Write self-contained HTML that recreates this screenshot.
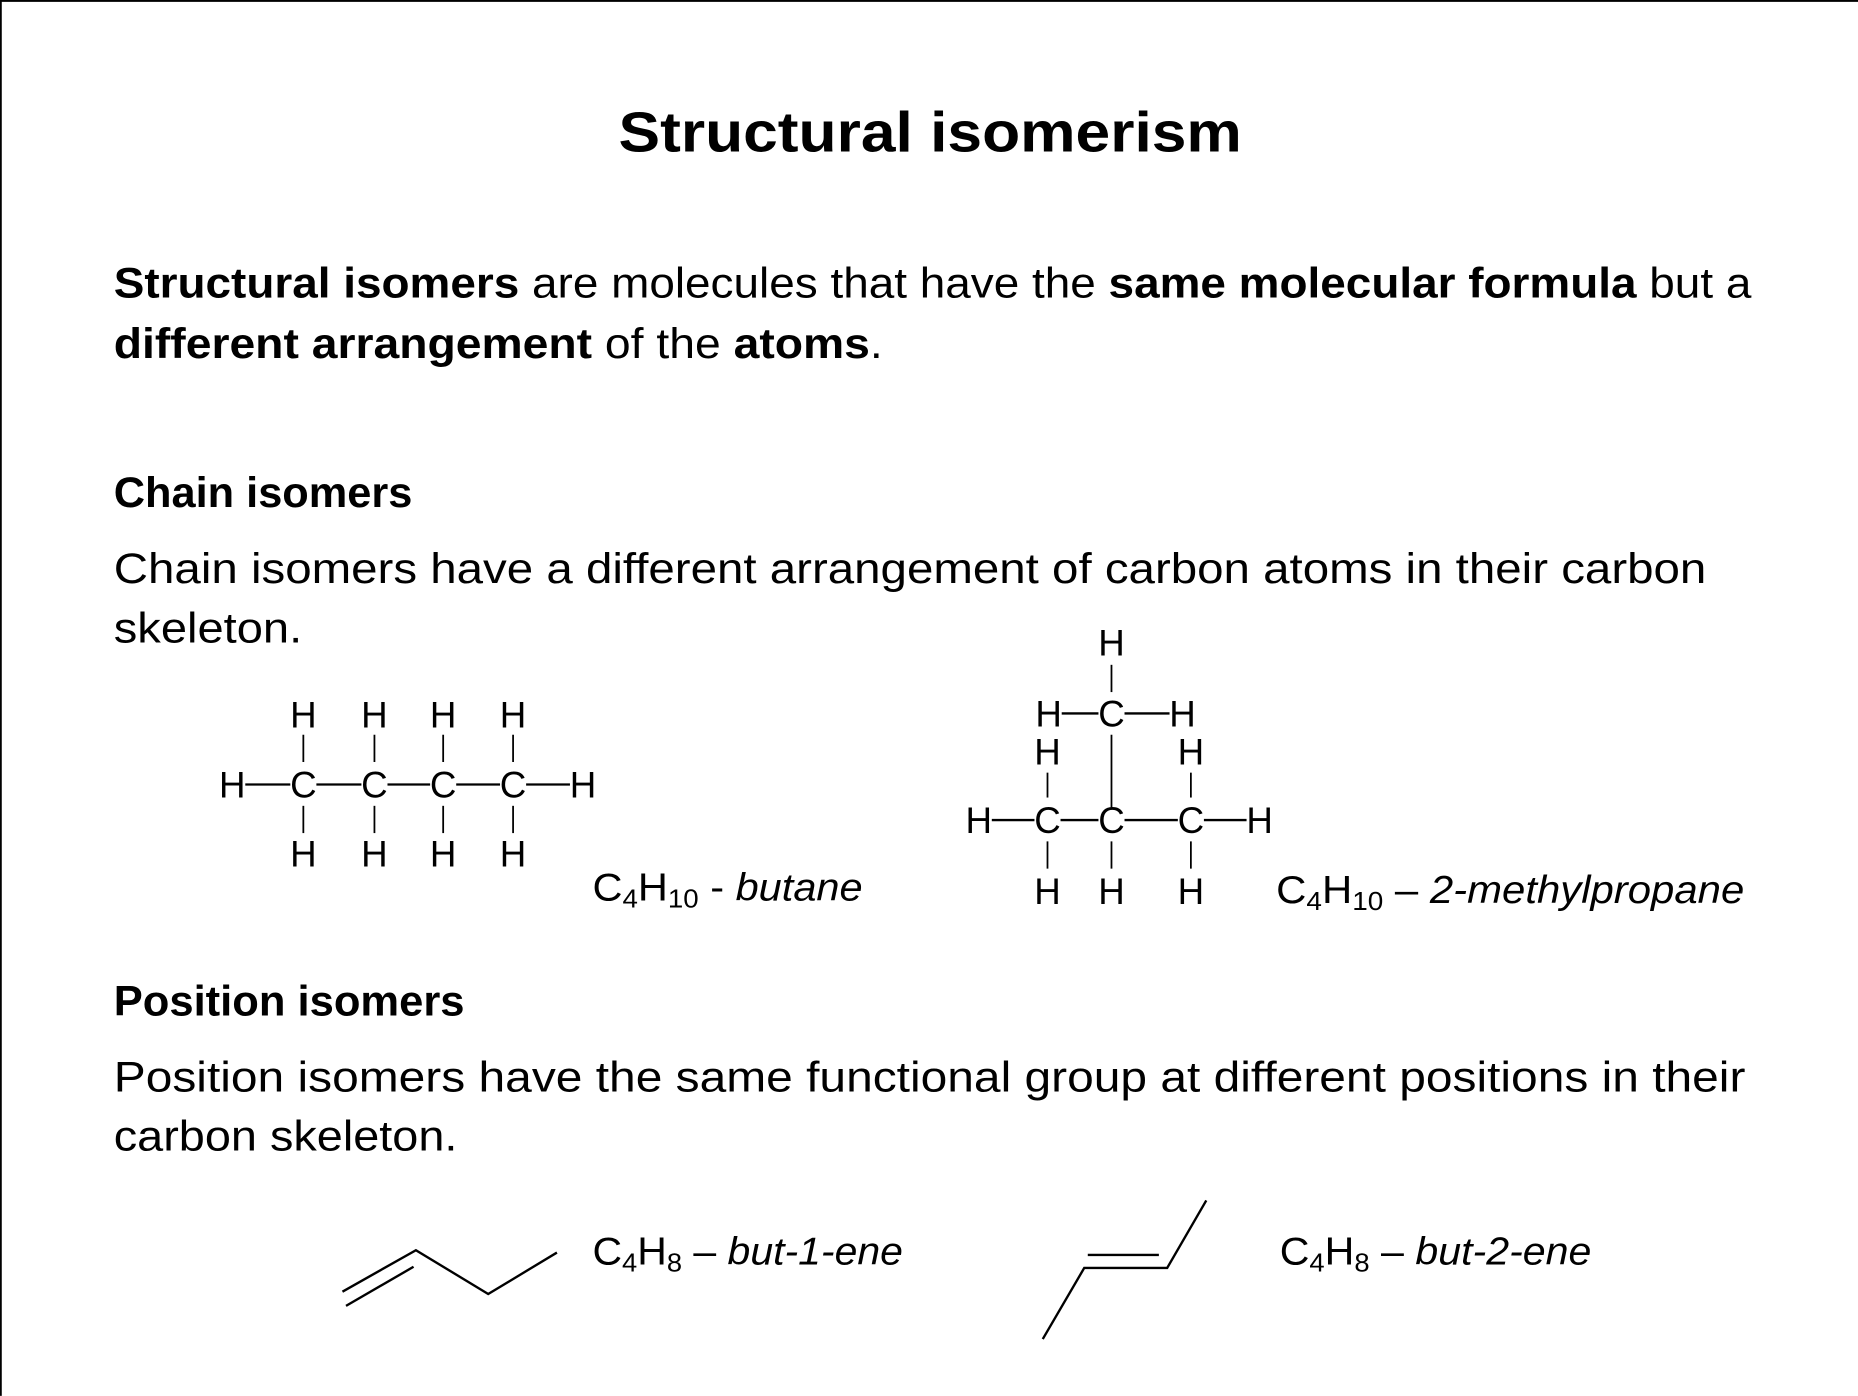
<!DOCTYPE html>
<html><head><meta charset="utf-8"><style>
html,body{margin:0;padding:0;background:#fff;}
svg{display:block;}
text{font-family:"Liberation Sans",sans-serif;fill:#000;}
.b{font-weight:bold;}
.s{font-family:"Liberation Sans",sans-serif;font-size:31px;text-anchor:middle;}
line,polyline{stroke:#000;stroke-width:2;fill:none;}
.thin{stroke-width:1.5;}
</style></head><body>
<svg width="1858" height="1396" viewBox="0 0 1568 1178" xmlns="http://www.w3.org/2000/svg">
<rect x="0" y="0" width="1568" height="1178" fill="#fff"/>
<line x1="0.5" y1="0" x2="0.5" y2="1178" stroke="#e2e2e2" stroke-width="1"/>
<line x1="0" y1="0.5" x2="1568" y2="0.5" stroke="#e2e2e2" stroke-width="1"/>

<text x="522" y="128" font-size="48" class="b" textLength="526" lengthAdjust="spacingAndGlyphs">Structural isomerism</text>

<text x="96" y="251" font-size="36" textLength="1382" lengthAdjust="spacingAndGlyphs"><tspan class="b">Structural isomers</tspan> are molecules that have the <tspan class="b">same molecular formula</tspan> but a</text>
<text x="96" y="302" font-size="36" textLength="649" lengthAdjust="spacingAndGlyphs"><tspan class="b">different arrangement</tspan> of the <tspan class="b">atoms</tspan>.</text>

<text x="96" y="428" font-size="36" class="b" textLength="252" lengthAdjust="spacingAndGlyphs">Chain isomers</text>
<text x="96" y="492" font-size="36" textLength="1344" lengthAdjust="spacingAndGlyphs">Chain isomers have a different arrangement of carbon atoms in their carbon</text>
<text x="96" y="542" font-size="36" textLength="159" lengthAdjust="spacingAndGlyphs">skeleton.</text>

<!-- butane -->
<g>
<text class="s" x="256" y="614">H</text><text class="s" x="316" y="614">H</text><text class="s" x="374" y="614">H</text><text class="s" x="433" y="614">H</text>
<text class="s" x="196" y="673">H</text><text class="s" x="256" y="673">C</text><text class="s" x="316" y="673">C</text><text class="s" x="374" y="673">C</text><text class="s" x="433" y="673">C</text><text class="s" x="492" y="673">H</text>
<text class="s" x="256" y="731">H</text><text class="s" x="316" y="731">H</text><text class="s" x="374" y="731">H</text><text class="s" x="433" y="731">H</text>
<line class="thin" x1="256" y1="620" x2="256" y2="643"/><line class="thin" x1="316" y1="620" x2="316" y2="643"/><line class="thin" x1="374" y1="620" x2="374" y2="643"/><line class="thin" x1="433" y1="620" x2="433" y2="643"/>
<line class="thin" x1="256" y1="680" x2="256" y2="703"/><line class="thin" x1="316" y1="680" x2="316" y2="703"/><line class="thin" x1="374" y1="680" x2="374" y2="703"/><line class="thin" x1="433" y1="680" x2="433" y2="703"/>
<line x1="207" y1="662" x2="245" y2="662"/><line x1="267" y1="662" x2="305" y2="662"/><line x1="327" y1="662" x2="363" y2="662"/><line x1="385" y1="662" x2="422" y2="662"/><line x1="444" y1="662" x2="481" y2="662"/>
</g>
<text x="500" y="760" font-size="33" textLength="228" lengthAdjust="spacingAndGlyphs">C<tspan font-size="22" dy="6">4</tspan><tspan dy="-6">H</tspan><tspan font-size="22" dy="6">10</tspan><tspan dy="-6"> - </tspan><tspan font-style="italic">butane</tspan></text>

<!-- 2-methylpropane -->
<g>
<text class="s" x="938" y="553">H</text>
<line class="thin" x1="938" y1="561" x2="938" y2="584"/>
<text class="s" x="885" y="613">H</text><text class="s" x="938" y="613">C</text><text class="s" x="998" y="613">H</text>
<line x1="896" y1="602" x2="927" y2="602"/><line x1="949" y1="602" x2="987" y2="602"/>
<line class="thin" x1="938" y1="620" x2="938" y2="682"/>
<text class="s" x="884" y="645">H</text><text class="s" x="1005" y="645">H</text>
<line class="thin" x1="884" y1="652" x2="884" y2="673"/><line class="thin" x1="1005" y1="652" x2="1005" y2="673"/>
<text class="s" x="826" y="703">H</text><text class="s" x="884" y="703">C</text><text class="s" x="938" y="703">C</text><text class="s" x="1005" y="703">C</text><text class="s" x="1063" y="703">H</text>
<line x1="837" y1="692" x2="873" y2="692"/><line x1="895" y1="692" x2="927" y2="692"/><line x1="949" y1="692" x2="994" y2="692"/><line x1="1016" y1="692" x2="1052" y2="692"/>
<line class="thin" x1="884" y1="710" x2="884" y2="733"/><line class="thin" x1="938" y1="710" x2="938" y2="733"/><line class="thin" x1="1005" y1="710" x2="1005" y2="733"/>
<text class="s" x="884" y="763">H</text><text class="s" x="938" y="763">H</text><text class="s" x="1005" y="763">H</text>
</g>
<text x="1077" y="762" font-size="33" textLength="395" lengthAdjust="spacingAndGlyphs">C<tspan font-size="22" dy="6">4</tspan><tspan dy="-6">H</tspan><tspan font-size="22" dy="6">10</tspan><tspan dy="-6"> – </tspan><tspan font-style="italic">2-methylpropane</tspan></text>

<text x="96" y="857" font-size="36" class="b" textLength="296" lengthAdjust="spacingAndGlyphs">Position isomers</text>
<text x="96" y="921" font-size="36" textLength="1377" lengthAdjust="spacingAndGlyphs">Position isomers have the same functional group at different positions in their</text>
<text x="96" y="971" font-size="36" textLength="290" lengthAdjust="spacingAndGlyphs">carbon skeleton.</text>

<!-- but-1-ene -->
<polyline points="289,1090 351,1055 412,1092 470,1057"/>
<line x1="292" y1="1102" x2="349" y2="1069"/>
<text x="500" y="1067" font-size="33" textLength="262" lengthAdjust="spacingAndGlyphs">C<tspan font-size="22" dy="6">4</tspan><tspan dy="-6">H</tspan><tspan font-size="22" dy="6">8</tspan><tspan dy="-6"> – </tspan><tspan font-style="italic">but-1-ene</tspan></text>

<!-- but-2-ene -->
<polyline points="880,1130 915,1070 985,1070 1018,1013"/>
<line x1="918" y1="1059" x2="978" y2="1059"/>
<text x="1080" y="1067" font-size="33" textLength="263" lengthAdjust="spacingAndGlyphs">C<tspan font-size="22" dy="6">4</tspan><tspan dy="-6">H</tspan><tspan font-size="22" dy="6">8</tspan><tspan dy="-6"> – </tspan><tspan font-style="italic">but-2-ene</tspan></text>
</svg>
</body></html>
